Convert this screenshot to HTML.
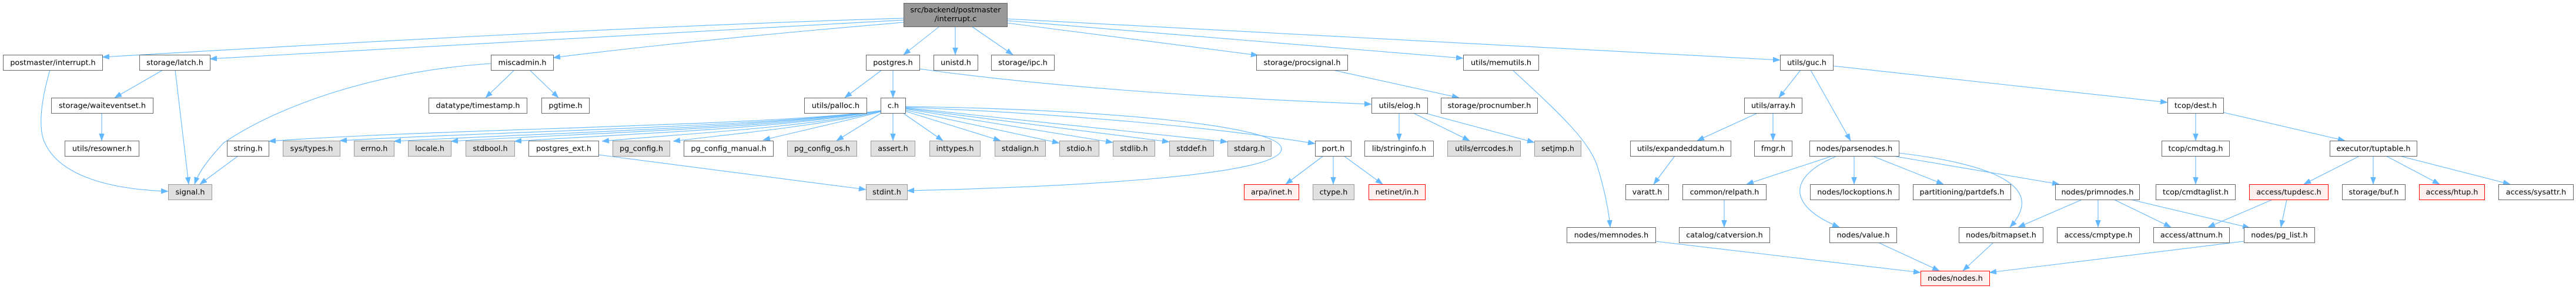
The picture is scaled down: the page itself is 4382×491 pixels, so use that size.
<!DOCTYPE html>
<html><head><meta charset="utf-8"><style>
html,body{margin:0;padding:0;background:#fff;}
svg{display:block;}
.e{fill:none;stroke:#63b8ff;stroke-width:1.1;}
.n{fill:#fff;stroke:#666;stroke-width:1;}
.g{fill:#e0e0e0;stroke:#999;stroke-width:1;}
.r{fill:#fff0f0;stroke:#f00;stroke-width:1;}
.rt{fill:#999;stroke:#666;stroke-width:1;}
text{font-family:"DejaVu Sans","Liberation Sans",sans-serif;font-size:12.8px;fill:#000;text-anchor:middle;}
</style></head><body>
<svg width="4382" height="491" viewBox="0 0 4382 491" xmlns="http://www.w3.org/2000/svg">
<defs><marker id="a" viewBox="0 0 12 9" refX="12" refY="4.5" markerWidth="12" markerHeight="9" markerUnits="userSpaceOnUse" orient="auto"><path d="M0,0L12,4.5L0,9z" fill="#63b8ff" stroke="#63b8ff" stroke-width="0.5"/></marker></defs>
<rect width="4382" height="491" fill="#fff"/>
<g class="e" marker-end="url(#a)">
<path class="e" marker-end="url(#a)" d="M1537,31 C1100,44 600,72 174,97"/>
<path class="e" marker-end="url(#a)" d="M1537,34 C1100,56 700,80 357,100"/>
<path class="e" marker-end="url(#a)" d="M1537,38 C1300,58 1100,78 941,98"/>
<path class="e" marker-end="url(#a)" d="M1598,45 L1537,93"/>
<path class="e" marker-end="url(#a)" d="M1625,45 L1625,93"/>
<path class="e" marker-end="url(#a)" d="M1653,45 L1723,93"/>
<path class="e" marker-end="url(#a)" d="M1713,39 L2140,94"/>
<path class="e" marker-end="url(#a)" d="M1713,35 L2489,99"/>
<path class="e" marker-end="url(#a)" d="M1713,32 L3028,102"/>
<path class="e" marker-end="url(#a)" d="M1500,119 L1437,166"/>
<path class="e" marker-end="url(#a)" d="M1519,119 L1519,166"/>
<path class="e" marker-end="url(#a)" d="M1564,117 C1800,150 2100,168 2333,177"/>
<path class="e" marker-end="url(#a)" d="M875,119 L826,166"/>
<path class="e" marker-end="url(#a)" d="M901,119 L950,166"/>
<path class="e" marker-end="url(#a)" d="M835,108 C650,120 480,175 380,243 C355,270 338,292 331,313"/>
<path class="e" marker-end="url(#a)" d="M85,119 C70,170 65,215 75,240 C100,300 190,322 286,325"/>
<path class="e" marker-end="url(#a)" d="M277,119 L195,166"/>
<path class="e" marker-end="url(#a)" d="M298,119 L321,313"/>
<path class="e" marker-end="url(#a)" d="M173,192 L173,239"/>
<path class="e" marker-end="url(#a)" d="M405,265 L340,313"/>
<path class="e" marker-end="url(#a)" d="M1498,188 C1300,215 757,218 457,240"/>
<path class="e" marker-end="url(#a)" d="M1498,188 C1300,216 878,222 578,239"/>
<path class="e" marker-end="url(#a)" d="M1498,188 C1300,217 950,225 670,240"/>
<path class="e" marker-end="url(#a)" d="M1498,188 C1320,218 1000,226 767,240"/>
<path class="e" marker-end="url(#a)" d="M1498,188 C1340,218 1060,228 875,240"/>
<path class="e" marker-end="url(#a)" d="M1498,189 C1360,218 1150,228 1024,240"/>
<path class="e" marker-end="url(#a)" d="M1498,189 C1390,215 1240,228 1145,240"/>
<path class="e" marker-end="url(#a)" d="M1498,190 C1420,210 1350,225 1298,238"/>
<path class="e" marker-end="url(#a)" d="M1499,192 L1423,239"/>
<path class="e" marker-end="url(#a)" d="M1519,192 L1519,239"/>
<path class="e" marker-end="url(#a)" d="M1536,192 L1604,239"/>
<path class="e" marker-end="url(#a)" d="M1540,189 L1702,239"/>
<path class="e" marker-end="url(#a)" d="M1540,187 L1802,243"/>
<path class="e" marker-end="url(#a)" d="M1540,185 L1893,242"/>
<path class="e" marker-end="url(#a)" d="M1540,184 L1989,241"/>
<path class="e" marker-end="url(#a)" d="M1540,183 L2088,241"/>
<path class="e" marker-end="url(#a)" d="M1540,182 C1800,193 2060,215 2237,244"/>
<path class="e" marker-end="url(#a)" d="M1540,181 C1900,186 2180,215 2180,253 C2180,300 1800,318 1543,324"/>
<path class="e" marker-end="url(#a)" d="M1018,263 L1473,322"/>
<path class="e" marker-end="url(#a)" d="M2251,265 L2187,313"/>
<path class="e" marker-end="url(#a)" d="M2268,265 L2268,313"/>
<path class="e" marker-end="url(#a)" d="M2286,265 L2352,313"/>
<path class="e" marker-end="url(#a)" d="M2380,192 L2380,239"/>
<path class="e" marker-end="url(#a)" d="M2404,192 L2500,239"/>
<path class="e" marker-end="url(#a)" d="M2423,192 L2610,242"/>
<path class="e" marker-end="url(#a)" d="M2267,119 L2482,166"/>
<path class="e" marker-end="url(#a)" d="M2573,119 C2650,190 2705,240 2718,285 C2730,325 2737,360 2739,386"/>
<path class="e" marker-end="url(#a)" d="M3063,119 L3026,166"/>
<path class="e" marker-end="url(#a)" d="M3080,119 L3148,239"/>
<path class="e" marker-end="url(#a)" d="M3118,112 L3687,174"/>
<path class="e" marker-end="url(#a)" d="M2990,192 L2887,239"/>
<path class="e" marker-end="url(#a)" d="M3016,192 L3016,239"/>
<path class="e" marker-end="url(#a)" d="M2849,265 L2813,313"/>
<path class="e" marker-end="url(#a)" d="M3117,265 L2971,313"/>
<path class="e" marker-end="url(#a)" d="M3125,265 C3040,300 3040,350 3129,386"/>
<path class="e" marker-end="url(#a)" d="M3154,265 L3154,313"/>
<path class="e" marker-end="url(#a)" d="M3185,265 L3306,313"/>
<path class="e" marker-end="url(#a)" d="M3220,265 L3503,313"/>
<path class="e" marker-end="url(#a)" d="M3230,260 C3400,280 3480,320 3419,386"/>
<path class="e" marker-end="url(#a)" d="M2933,339 L2933,386"/>
<path class="e" marker-end="url(#a)" d="M3542,339 L3433,386"/>
<path class="e" marker-end="url(#a)" d="M3569,339 L3569,386"/>
<path class="e" marker-end="url(#a)" d="M3596,339 L3693,386"/>
<path class="e" marker-end="url(#a)" d="M3620,338 L3827,387"/>
<path class="e" marker-end="url(#a)" d="M3866,339 L3756,386"/>
<path class="e" marker-end="url(#a)" d="M3890,339 L3880,386"/>
<path class="e" marker-end="url(#a)" d="M2816,410 L3267,463"/>
<path class="e" marker-end="url(#a)" d="M3195,412 L3299,460"/>
<path class="e" marker-end="url(#a)" d="M3391,412 L3339,460"/>
<path class="e" marker-end="url(#a)" d="M3817,410 L3384,463"/>
<path class="e" marker-end="url(#a)" d="M3735,192 L3735,239"/>
<path class="e" marker-end="url(#a)" d="M3782,191 L3989,239"/>
<path class="e" marker-end="url(#a)" d="M3735,265 L3735,313"/>
<path class="e" marker-end="url(#a)" d="M4014,265 L3919,313"/>
<path class="e" marker-end="url(#a)" d="M4037,265 L4037,313"/>
<path class="e" marker-end="url(#a)" d="M4059,265 L4150,313"/>
<path class="e" marker-end="url(#a)" d="M4082,265 L4270,313"/>
</g>

<!-- root -->
<rect class="rt" x="1537.5" y="5.5" width="176" height="40"/>
<text x="1625.5" y="21">src/backend/postmaster</text>
<text x="1625.5" y="36">/interrupt.c</text>

<!-- row 1 -->
<rect class="n" x="5.5" y="93.5" width="169" height="26"/><text x="90" y="110.5">postmaster/interrupt.h</text>
<rect class="n" x="237.5" y="93.5" width="120" height="26"/><text x="297.5" y="110.5">storage/latch.h</text>
<rect class="n" x="835.5" y="93.5" width="106" height="26"/><text x="888.5" y="110.5">miscadmin.h</text>
<rect class="n" x="1473.5" y="93.5" width="91" height="26"/><text x="1519" y="110.5">postgres.h</text>
<rect class="n" x="1588.5" y="93.5" width="75" height="26"/><text x="1626" y="110.5">unistd.h</text>
<rect class="n" x="1686.5" y="93.5" width="107" height="26"/><text x="1740" y="110.5">storage/ipc.h</text>
<rect class="n" x="2137.5" y="93.5" width="155" height="26"/><text x="2215" y="110.5">storage/procsignal.h</text>
<rect class="n" x="2489.5" y="93.5" width="128" height="26"/><text x="2553.5" y="110.5">utils/memutils.h</text>
<rect class="n" x="3028.5" y="93.5" width="90" height="26"/><text x="3073.5" y="110.5">utils/guc.h</text>

<!-- row 2 -->
<rect class="n" x="87.5" y="166.5" width="173" height="26"/><text x="174" y="183.5">storage/waiteventset.h</text>
<rect class="n" x="729.5" y="166.5" width="167" height="26"/><text x="813" y="183.5">datatype/timestamp.h</text>
<rect class="n" x="921.5" y="166.5" width="81" height="26"/><text x="962" y="183.5">pgtime.h</text>
<rect class="n" x="1368.5" y="166.5" width="106" height="26"/><text x="1421.5" y="183.5">utils/palloc.h</text>
<rect class="n" x="1498.5" y="166.5" width="42" height="26"/><text x="1519.5" y="183.5">c.h</text>
<rect class="n" x="2333.5" y="166.5" width="95" height="26"/><text x="2381" y="183.5">utils/elog.h</text>
<rect class="n" x="2451.5" y="166.5" width="164" height="26"/><text x="2533.5" y="183.5">storage/procnumber.h</text>
<rect class="n" x="2967.5" y="166.5" width="98" height="26"/><text x="3016.5" y="183.5">utils/array.h</text>
<rect class="n" x="3687.5" y="166.5" width="95" height="26"/><text x="3735" y="183.5">tcop/dest.h</text>

<!-- row 3 -->
<rect class="n" x="110.5" y="239.5" width="126" height="26"/><text x="173.5" y="256.5">utils/resowner.h</text>
<rect class="n" x="386.5" y="239.5" width="71" height="26"/><text x="422" y="256.5">string.h</text>
<rect class="g" x="481.5" y="239.5" width="97" height="26"/><text x="530" y="256.5">sys/types.h</text>
<rect class="g" x="602.5" y="239.5" width="68" height="26"/><text x="636.5" y="256.5">errno.h</text>
<rect class="g" x="694.5" y="239.5" width="73" height="26"/><text x="731" y="256.5">locale.h</text>
<rect class="g" x="792.5" y="239.5" width="83" height="26"/><text x="834" y="256.5">stdbool.h</text>
<rect class="n" x="899.5" y="239.5" width="119" height="26"/><text x="959" y="256.5">postgres_ext.h</text>
<rect class="g" x="1042.5" y="239.5" width="97" height="26"/><text x="1091" y="256.5">pg_config.h</text>
<rect class="n" x="1163.5" y="239.5" width="152" height="26"/><text x="1239.5" y="256.5">pg_config_manual.h</text>
<rect class="g" x="1339.5" y="239.5" width="118" height="26"/><text x="1398.5" y="256.5">pg_config_os.h</text>
<rect class="g" x="1481.5" y="239.5" width="75" height="26"/><text x="1519" y="256.5">assert.h</text>
<rect class="g" x="1581.5" y="239.5" width="86" height="26"/><text x="1624.5" y="256.5">inttypes.h</text>
<rect class="g" x="1692.5" y="239.5" width="86" height="26"/><text x="1735.5" y="256.5">stdalign.h</text>
<rect class="g" x="1802.5" y="239.5" width="67" height="26"/><text x="1836" y="256.5">stdio.h</text>
<rect class="g" x="1893.5" y="239.5" width="71" height="26"/><text x="1929" y="256.5">stdlib.h</text>
<rect class="g" x="1989.5" y="239.5" width="75" height="26"/><text x="2027" y="256.5">stddef.h</text>
<rect class="g" x="2088.5" y="239.5" width="74" height="26"/><text x="2125.5" y="256.5">stdarg.h</text>
<rect class="n" x="2237.5" y="239.5" width="61" height="26"/><text x="2268" y="256.5">port.h</text>
<rect class="n" x="2321.5" y="239.5" width="117" height="26"/><text x="2380" y="256.5">lib/stringinfo.h</text>
<rect class="g" x="2462.5" y="239.5" width="124" height="26"/><text x="2524.5" y="256.5">utils/errcodes.h</text>
<rect class="g" x="2610.5" y="239.5" width="79" height="26"/><text x="2650" y="256.5">setjmp.h</text>
<rect class="n" x="2773.5" y="239.5" width="171" height="26"/><text x="2859" y="256.5">utils/expandeddatum.h</text>
<rect class="n" x="2984.5" y="239.5" width="64" height="26"/><text x="3016.5" y="256.5">fmgr.h</text>
<rect class="n" x="3078.5" y="239.5" width="152" height="26"/><text x="3154.5" y="256.5">nodes/parsenodes.h</text>
<rect class="n" x="3677.5" y="239.5" width="115" height="26"/><text x="3735" y="256.5">tcop/cmdtag.h</text>
<rect class="n" x="3963.5" y="239.5" width="148" height="26"/><text x="4037.5" y="256.5">executor/tuptable.h</text>

<!-- row 4 -->
<rect class="g" x="286.5" y="313.5" width="74" height="26"/><text x="323.5" y="330.5">signal.h</text>
<rect class="g" x="1473.5" y="313.5" width="70" height="26"/><text x="1508.5" y="330.5">stdint.h</text>
<rect class="r" x="2116.5" y="313.5" width="93" height="26"/><text x="2163" y="330.5">arpa/inet.h</text>
<rect class="g" x="2233.5" y="313.5" width="70" height="26"/><text x="2268.5" y="330.5">ctype.h</text>
<rect class="r" x="2328.5" y="313.5" width="96" height="26"/><text x="2376.5" y="330.5">netinet/in.h</text>
<rect class="n" x="2765.5" y="313.5" width="73" height="26"/><text x="2802" y="330.5">varatt.h</text>
<rect class="n" x="2862.5" y="313.5" width="142" height="26"/><text x="2933.5" y="330.5">common/relpath.h</text>
<rect class="n" x="3079.5" y="313.5" width="151" height="26"/><text x="3155" y="330.5">nodes/lockoptions.h</text>
<rect class="n" x="3254.5" y="313.5" width="166" height="26"/><text x="3337.5" y="330.5">partitioning/partdefs.h</text>
<rect class="n" x="3496.5" y="313.5" width="143" height="26"/><text x="3568" y="330.5">nodes/primnodes.h</text>
<rect class="n" x="3667.5" y="313.5" width="135" height="26"/><text x="3735" y="330.5">tcop/cmdtaglist.h</text>
<rect class="r" x="3826.5" y="313.5" width="134" height="26"/><text x="3893.5" y="330.5">access/tupdesc.h</text>
<rect class="n" x="3984.5" y="313.5" width="107" height="26"/><text x="4038" y="330.5">storage/buf.h</text>
<rect class="r" x="4115.5" y="313.5" width="111" height="26"/><text x="4171" y="330.5">access/htup.h</text>
<rect class="n" x="4250.5" y="313.5" width="127" height="26"/><text x="4314" y="330.5">access/sysattr.h</text>

<!-- row 5 -->
<rect class="n" x="2665.5" y="386.5" width="151" height="26"/><text x="2741" y="403.5">nodes/memnodes.h</text>
<rect class="n" x="2856.5" y="386.5" width="154" height="26"/><text x="2933.5" y="403.5">catalog/catversion.h</text>
<rect class="n" x="3112.5" y="386.5" width="114" height="26"/><text x="3169.5" y="403.5">nodes/value.h</text>
<rect class="n" x="3332.5" y="386.5" width="143" height="26"/><text x="3404" y="403.5">nodes/bitmapset.h</text>
<rect class="n" x="3499.5" y="386.5" width="140" height="26"/><text x="3569.5" y="403.5">access/cmptype.h</text>
<rect class="n" x="3663.5" y="386.5" width="129" height="26"/><text x="3728" y="403.5">access/attnum.h</text>
<rect class="n" x="3817.5" y="386.5" width="120" height="26"/><text x="3877.5" y="403.5">nodes/pg_list.h</text>

<!-- row 6 -->
<rect class="r" x="3267.5" y="460.5" width="117" height="25"/><text x="3326" y="477">nodes/nodes.h</text>
</svg>
</body></html>
